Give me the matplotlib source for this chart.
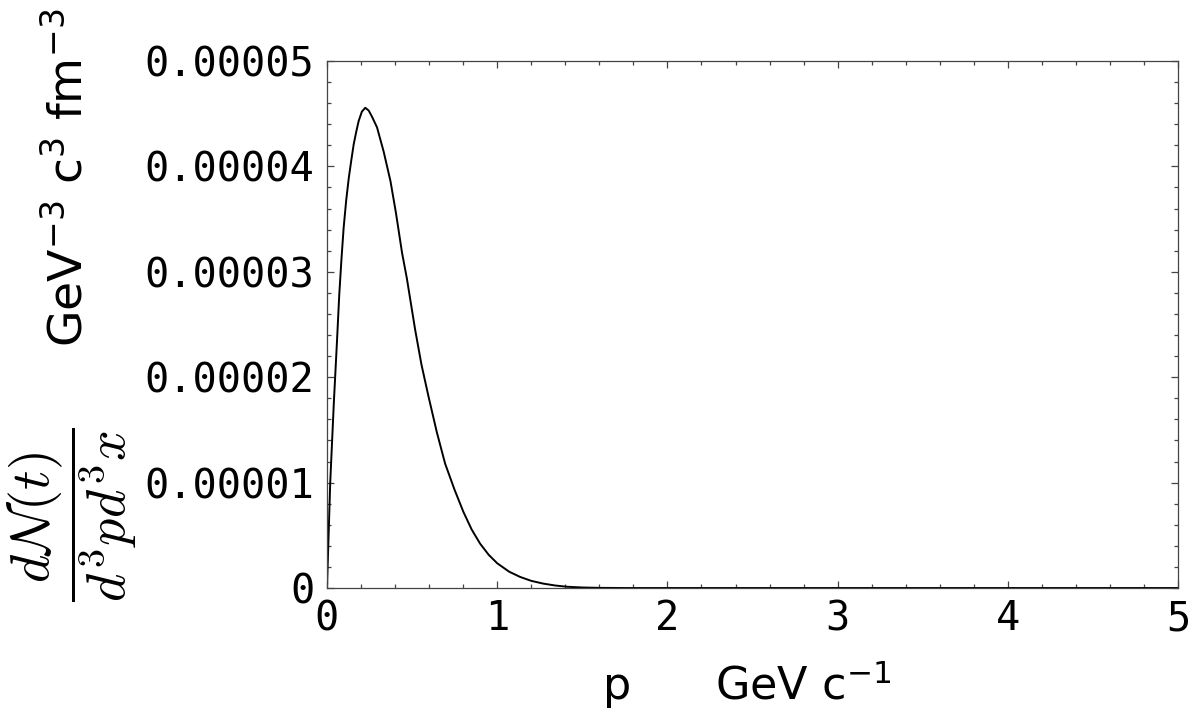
import matplotlib
matplotlib.use("Agg")
import matplotlib.pyplot as plt
import numpy as np

# momentum (GeV/c) and dN/d3p d3x (in units of 1e-5)
p = [0.0, 0.019, 0.040, 0.059, 0.072, 0.085, 0.098, 0.113, 0.128, 0.143,
     0.157, 0.172, 0.186, 0.205, 0.225, 0.245, 0.265, 0.294, 0.333, 0.373,
     0.405, 0.441, 0.469, 0.518, 0.555, 0.596, 0.645, 0.694, 0.75, 0.802,
     0.85, 0.90, 0.95, 1.00, 1.07, 1.135, 1.20, 1.27, 1.34, 1.41, 1.50,
     1.60, 1.75, 5.0]
dn = [0.0, 1.0, 1.75, 2.35, 2.78, 3.12, 3.42, 3.68, 3.89, 4.06,
      4.21, 4.33, 4.43, 4.52, 4.556, 4.53, 4.47, 4.37, 4.14, 3.86,
      3.56, 3.18, 2.94, 2.45, 2.12, 1.82, 1.48, 1.18, 0.93, 0.72,
      0.555, 0.42, 0.315, 0.235, 0.155, 0.105, 0.068, 0.042, 0.024, 0.012,
      0.005, 0.0015, 0.0, 0.0]
dn = np.array(dn) * 1e-5

xticks = [0, 1, 2, 3, 4, 5]
yticks = [0, 1e-5, 2e-5, 3e-5, 4e-5, 5e-5]
ytick_labels = ["0", "0.00001", "0.00002", "0.00003", "0.00004", "0.00005"]

plt.rcParams['mathtext.fontset'] = 'dejavusans'

fig = plt.figure(figsize=(11.96, 7.15), dpi=100)
ax = fig.add_axes([0.2734, 0.1776, 0.7116, 0.7371])
ax.plot(p, dn, color='black', linewidth=1.4, solid_joinstyle='round')

ax.set_xlim(0, 5)
ax.set_ylim(0, 5e-5)
ax.set_xticks(xticks)
ax.set_xticklabels([str(t) for t in xticks])
ax.set_yticks(yticks)
ax.set_yticklabels(ytick_labels)
ax.set_xticks(np.arange(0, 5.01, 0.2), minor=True)
ax.set_yticks(np.arange(0, 5.01e-5, 0.2e-5), minor=True)

ax.tick_params(which='both', direction='in', top=True, right=True,
               color='#444444', width=0.9)
ax.tick_params(which='major', length=5)
ax.tick_params(which='minor', length=3)
ax.tick_params(axis='x', pad=8)
ax.tick_params(axis='y', pad=9)
for lab in ax.get_xticklabels() + ax.get_yticklabels():
    lab.set_fontfamily('DejaVu Sans Mono')
    lab.set_fontsize(29)
for s in ax.spines.values():
    s.set_color('#444444')
    s.set_linewidth(0.9)

fig.text(0.6246, 0.042, "p      GeV c$^{-1}$", fontsize=32, ha='center',
         va='center', family='DejaVu Sans')
fig.text(0.057, 0.752, "GeV$^{-3}$ c$^{3}$ fm$^{-3}$", fontsize=34,
         rotation=90, ha='center', va='center', family='DejaVu Sans')
fig.text(0.060, 0.28, r"$\dfrac{d\mathcal{N}(t)}{d^3pd^3x}$", fontsize=39,
         rotation=90, ha='center', va='center', math_fontfamily='cm')

fig.savefig("out.png", dpi=100)
